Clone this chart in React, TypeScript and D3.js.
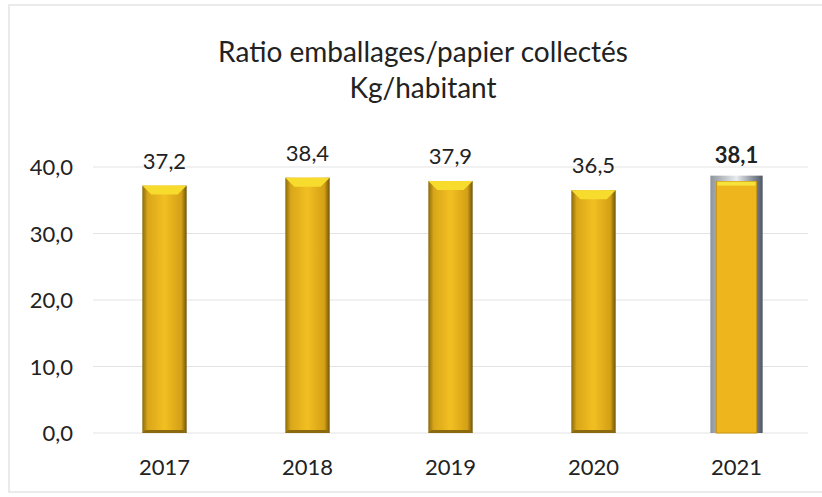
import React from "react";
import { scaleBand, scaleLinear } from "d3";

const years = ["2017", "2018", "2019", "2020", "2021"];
const ratios = [37.2, 38.4, 37.9, 36.5, 38.1];
const yTicks = [0, 10, 20, 30, 40];
const titleLines = ["Ratio emballages/papier collectés", "Kg/habitant"];

const width = 822;
const height = 497;
const fr = (v: number) => v.toFixed(1).replace(".", ",");
const font = "Lato, 'Open Sans', sans-serif";

export default function App() {
    const x = scaleBand().domain(years).range([93, 808]).paddingInner(0.69).paddingOuter(0.345);
    const y = scaleLinear().domain([0, 40]).range([433, 167]);
    const bw = x.bandwidth();

    return (
        <svg width={width} height={height} style={{ position: "absolute", left: 0, top: 0 }}>
            <defs>
                <linearGradient id="gold" x1="0" x2="1" y1="0" y2="0">
                    <stop offset="0" stopColor="#8a6a0c" />
                    <stop offset="0.12" stopColor="#d9a619" />
                    <stop offset="0.5" stopColor="#f2bf22" />
                    <stop offset="0.88" stopColor="#d4a016" />
                    <stop offset="1" stopColor="#6e540a" />
                </linearGradient>
                <linearGradient id="silver" x1="0" x2="1" y1="0" y2="0">
                    <stop offset="0" stopColor="#8f959c" />
                    <stop offset="0.5" stopColor="#e8ecf0" />
                    <stop offset="1" stopColor="#4f5866" />
                </linearGradient>
            </defs>
            <rect x={0} y={0} width={width} height={height} fill="#fff" />
            <rect x={9} y={5} width={830} height={487} fill="none" stroke="#e4e4e4" strokeWidth={1.5} />

            {titleLines.map((t, i) => (
                <text key={t} x={423} y={62 + i * 36} textAnchor="middle" fontFamily={font} fontSize={28} fill="#222">
                    {t}
                </text>
            ))}

            {yTicks.map((t) => (
                <g key={t}>
                    <line x1={93} x2={808} y1={y(t)} y2={y(t)} stroke="#e3e3e3" strokeWidth={1.2} />
                    <text x={73} y={y(t) + 8} textAnchor="end" fontFamily={font} fontSize={22} fill="#222">
                        {fr(t)}
                    </text>
                </g>
            ))}

            {years.map((yr, i) => {
                const x0 = x(yr) || 0;
                const top = y(ratios[i]);
                const base = y(0);
                const last = i === years.length - 1;
                const bevel = 9;
                return (
                    <g key={yr}>
                        {last ? (
                            <>
                                <rect x={x0 - 4} y={top - 4} width={bw + 8} height={base - top + 4} fill="url(#silver)" />
                                <rect x={x0 + 2} y={top + 2} width={bw - 4} height={base - top - 2} fill="#eeb51c" stroke="#c89410" strokeWidth={1} />
                                <rect x={x0 + 3} y={top + 2} width={bw - 6} height={4} fill="#f7e23a" />
                            </>
                        ) : (
                            <>
                                <rect x={x0} y={top} width={bw} height={base - top} fill="url(#gold)" />
                                <path
                                    d={`M${x0},${top} L${x0 + bw},${top} L${x0 + bw - bevel},${top + bevel} L${x0 + bevel},${top + bevel} Z`}
                                    fill="#f7dc2e"
                                />
                                <path
                                    d={`M${x0},${base} L${x0 + bw},${base} L${x0 + bw - 3},${base - 3} L${x0 + 3},${base - 3} Z`}
                                    fill="#8a6a0c"
                                />
                            </>
                        )}
                        <text
                            x={x0 + bw / 2}
                            y={top - 17}
                            textAnchor="middle"
                            fontFamily={font}
                            fontSize={22}
                            fontWeight={last ? "bold" : "normal"}
                            fill="#222"
                        >
                            {fr(ratios[i])}
                        </text>
                        <text x={x0 + bw / 2} y={475} textAnchor="middle" fontFamily={font} fontSize={22} fill="#222">
                            {yr}
                        </text>
                    </g>
                );
            })}
        </svg>
    );
}
